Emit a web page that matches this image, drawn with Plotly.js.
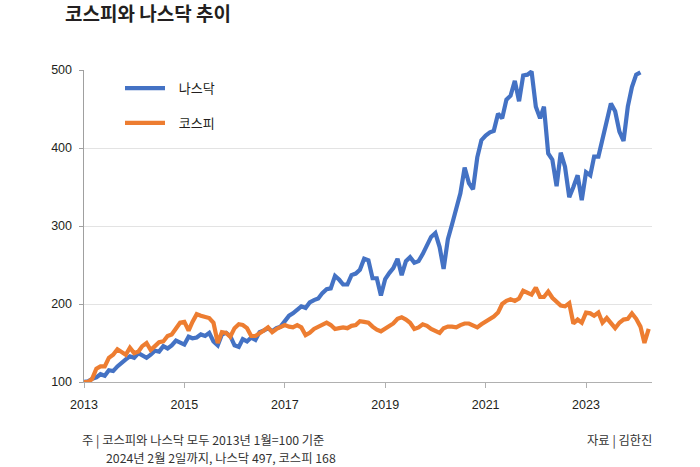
<!DOCTYPE html>
<html>
<head>
<meta charset="utf-8">
<script src="https://cdn.plot.ly/plotly-3.0.1.min.js"></script>
<style>
  html, body { margin: 0; padding: 0; background: #fff; }
  #chart { width: 700px; height: 467px; }
</style>
</head>
<body>
<div id="chart"></div>
<script>
// monthly, 2013-01 = 100
var nasdaq = [
    100, 101, 104, 106, 110, 108, 115, 114, 120, 125, 129, 133,
    131, 137, 134, 131, 135, 140, 139, 146, 143, 147, 153, 151,
    148, 158, 156, 157, 161, 159, 163, 152, 147, 161, 163, 159,
    147, 145, 155, 152, 157, 154, 164, 166, 169, 165, 169, 171,
    179, 185, 188, 192, 197, 195, 202, 205, 207, 214, 219, 220,
    236, 231, 225, 225, 237, 239, 244, 258, 256, 233, 233, 211,
    232, 240, 246, 258, 237, 255, 260, 253, 255, 264, 276, 286,
    291, 273, 245, 283, 302, 320, 342, 375, 355, 347, 388, 410,
    416, 420, 422, 444, 438, 462, 467, 486, 460, 493, 494, 498,
    453, 438, 453, 393, 385, 351, 394, 376, 337, 350, 365, 333,
    369, 365, 389, 389, 412, 439, 457, 447, 421, 409, 453, 478,
    494, 497
];
var kospi = [
    100, 100, 104, 117, 120, 120, 131, 135, 142, 138, 135, 144,
    137, 139, 146, 150, 141, 146, 151, 152, 159, 161, 168, 176,
    177, 166, 177, 187, 185, 183, 182, 176, 150, 164, 163, 158,
    169, 174, 173, 169, 159, 159, 162, 166, 170, 164, 168, 170,
    173, 171, 170, 173, 170, 160, 163, 168, 171, 174, 176, 173,
    168, 169, 170, 169, 172, 173, 178, 177, 176, 171, 167, 165,
    169, 172, 175, 181, 183, 180, 176, 168, 170, 174, 172, 168,
    165, 163, 169, 171, 171, 170, 173, 175, 175, 173, 170, 174,
    177, 180, 184, 189, 200, 204, 206, 204, 207, 217, 214, 212,
    221, 209, 209, 216, 208, 202, 198, 197, 201, 175, 180, 176,
    189, 188, 185, 189, 176, 182, 175, 169, 176, 180, 181, 188,
    181, 171, 150, 168
];
var yearTicks = ['2013', '2015', '2017', '2019', '2021', '2023'];
var valueTicks = [100, 200, 300, 400, 500];

var titleText = '코스피와 나스닥 추이';
var noteLines = ['주 | 코스피와 나스닥 모두 2013년 1월=100 기준', '2024년 2월 2일까지, 나스닥 497, 코스피 168'];
var sourceText = '자료 | 김한진';

function months(n) {
    var out = [];
    for (var i = 0; i < n; i++) {
        var y = 2013 + Math.floor(i / 12), m = (i % 12) + 1;
        out.push(y + '-' + (m < 10 ? '0' + m : m) + '-01');
    }
    return out;
}

var kr = '"Noto Sans CJK KR", "Noto Sans", sans-serif';
var num = '"Liberation Sans", Arial, sans-serif';
var pad = '\u00a0\u00a0\u00a0';

var traces = [
    {
        x: months(nasdaq.length), y: nasdaq, name: pad + '나스닥', legendgroup: 'a',
        type: 'scatter', mode: 'lines',
        line: { color: '#4472C4', width: 4.2 }
    },
    {
        x: months(kospi.length), y: kospi, name: pad + '코스피', legendgroup: 'b',
        type: 'scatter', mode: 'lines',
        line: { color: '#ED7D31', width: 4.2 }
    }
];

var noteFont = { family: kr, size: 12.3, color: '#333' };

var layout = {
    width: 700, height: 467,
    margin: { l: 84, r: 48, t: 70, b: 85 },
    paper_bgcolor: '#fff', plot_bgcolor: '#fff',
    title: {
        text: '<b>' + titleText + '</b>',
        xref: 'container', yref: 'container',
        x: 65 / 700, xanchor: 'left',
        y: 1 - 14 / 467, yanchor: 'middle',
        font: { family: kr, size: 19, color: '#231f20' }
    },
    xaxis: {
        type: 'date',
        range: ['2013-01-01', '2024-04-25'],
        tickvals: yearTicks.map(function(y) { return y + '-01-01'; }),
        ticktext: yearTicks,
        showgrid: false, zeroline: false,
        showline: true, linecolor: '#b0b0b0', linewidth: 1,
        ticks: 'outside', ticklen: 5, tickcolor: '#b0b0b0',
        ticklabelstandoff: 6,
        tickfont: { family: num, size: 12.5, color: '#231f20' }
    },
    yaxis: {
        range: [100, 500],
        tickvals: valueTicks,
        showgrid: true, gridcolor: '#e3e3e3', gridwidth: 1,
        zeroline: false,
        showline: true, linecolor: '#a0a0a0', linewidth: 1.5,
        ticks: 'outside', ticklen: 4, tickcolor: '#a0a0a0',
        ticklabelstandoff: 4,
        tickfont: { family: num, size: 12.5, color: '#231f20' }
    },
    showlegend: true,
    legend: {
        x: 36 / 568, y: 0.99, xanchor: 'left', yanchor: 'top',
        bgcolor: 'rgba(0,0,0,0)',
        font: { family: kr, size: 13, color: '#231f20' },
        itemwidth: 40,
        tracegroupgap: 15
    },
    annotations: [
        {
            text: noteLines[0], xref: 'paper', yref: 'paper',
            x: -3 / 568, y: -57.5 / 312, xanchor: 'left', yanchor: 'middle',
            align: 'left', showarrow: false, borderpad: 0, font: noteFont
        },
        {
            text: noteLines[1], xref: 'paper', yref: 'paper',
            x: 21 / 568, y: -75.5 / 312, xanchor: 'left', yanchor: 'middle',
            align: 'left', showarrow: false, borderpad: 0, font: noteFont
        },
        {
            text: sourceText, xref: 'paper', yref: 'paper',
            x: 502 / 568, y: -57.5 / 312, xanchor: 'left', yanchor: 'middle',
            align: 'left', showarrow: false, borderpad: 0, font: noteFont
        }
    ]
};

Plotly.newPlot('chart', traces, layout, { displayModeBar: false, staticPlot: true });
</script>
</body>
</html>
